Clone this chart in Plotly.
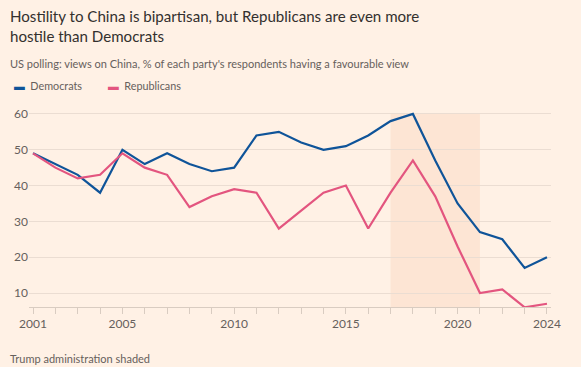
import plotly.graph_objects as go

years = list(range(2001, 2025))
democrats = [49, 46, 43, 38, 50, 46, 49, 46, 44, 45, 54, 55, 52, 50, 51, 54, 58, 60, 47, 35, 27, 25, 17, 20]
republicans = [49, 45, 42, 43, 49, 45, 43, 34, 37, 39, 38, 28, 33, 38, 40, 28, 38, 47, 37, 23, 10, 11, 6, 7]
x_tickvals = [2001, 2005, 2010, 2015, 2020, 2024]
y_tickvals = [10, 20, 30, 40, 50, 60]
trump_start, trump_end = 2017, 2021

BG = "#FFF1E5"
BLUE = "#0F5499"
PINK = "#E3557F"
FONT = "Lato"

fig = go.Figure()
fig.add_trace(go.Scatter(x=years, y=democrats, mode="lines", name="Democrats",
                         line=dict(color=BLUE, width=2.2), showlegend=False))
fig.add_trace(go.Scatter(x=years, y=republicans, mode="lines", name="Republicans",
                         line=dict(color=PINK, width=2.2), showlegend=False))

fig.add_shape(type="rect", xref="x", yref="y", x0=trump_start, x1=trump_end, y0=6.09, y1=60,
              fillcolor="#FCE2CF", opacity=0.8, line_width=0, layer="below")

T, B = 110, 307
H = B - T
L, R = 29, 551
W = R - L
def py(p):
    return (B - p) / H
def px(p):
    return (p - L) / W

ann = [
    dict(text="Hostility to China is bipartisan, but Republicans are even more<br>hostile than Democrats",
         x=px(8), y=py(4.5), font=dict(size=15.1, color="#33302E", family=FONT)),
    dict(text="US polling: views on China, % of each party's respondents having a favourable view",
         x=px(8), y=py(55), font=dict(size=11, color="#66605C", family=FONT)),
    dict(text=f"<span style='color:{BLUE}'>▬</span>  Democrats",
         x=px(12), y=py(77.5), font=dict(size=10.8, color="#66605C", family=FONT)),
    dict(text=f"<span style='color:{PINK}'>▬</span>  Republicans",
         x=px(106), y=py(77.5), font=dict(size=10.8, color="#66605C", family=FONT)),
    dict(text="Trump administration shaded<br>Source: Gallup",
         x=px(8), y=py(350), font=dict(size=11, color="#66605C", family=FONT)),
]
for a in ann:
    a.update(xref="paper", yref="paper", xanchor="left", yanchor="top", align="left", showarrow=False)

fig.update_layout(
    width=581, height=367,
    margin=dict(l=L, r=581 - R, t=T, b=367 - B),
    paper_bgcolor=BG, plot_bgcolor=BG,
    font=dict(family=FONT, color="#66605C", size=12),
    annotations=ann,
    xaxis=dict(range=[2000.82, 2024.18], tickvals=x_tickvals, ticktext=[str(v) for v in x_tickvals],
               showgrid=False, zeroline=False, showline=True, linecolor="#D9CCC1", linewidth=1,
               ticks="outside", ticklen=6, tickcolor="#D9CCC1",
               minor=dict(tickmode="linear", tick0=2001, dtick=1, ticks="outside", ticklen=6, tickcolor="#D9CCC1"),
               tickfont=dict(size=12, color="#66605C", family=FONT), fixedrange=True),
    yaxis=dict(range=[6.09, 61.1], tickvals=y_tickvals, showgrid=True, gridcolor="#EBDDD2", gridwidth=1,
               zeroline=False, showline=False, ticks="", tickfont=dict(size=12, color="#66605C", family=FONT),
               fixedrange=True),
)

fig.write_html("out.html", config={"displayModeBar": False},
               post_script="document.body.style.margin='0';")
